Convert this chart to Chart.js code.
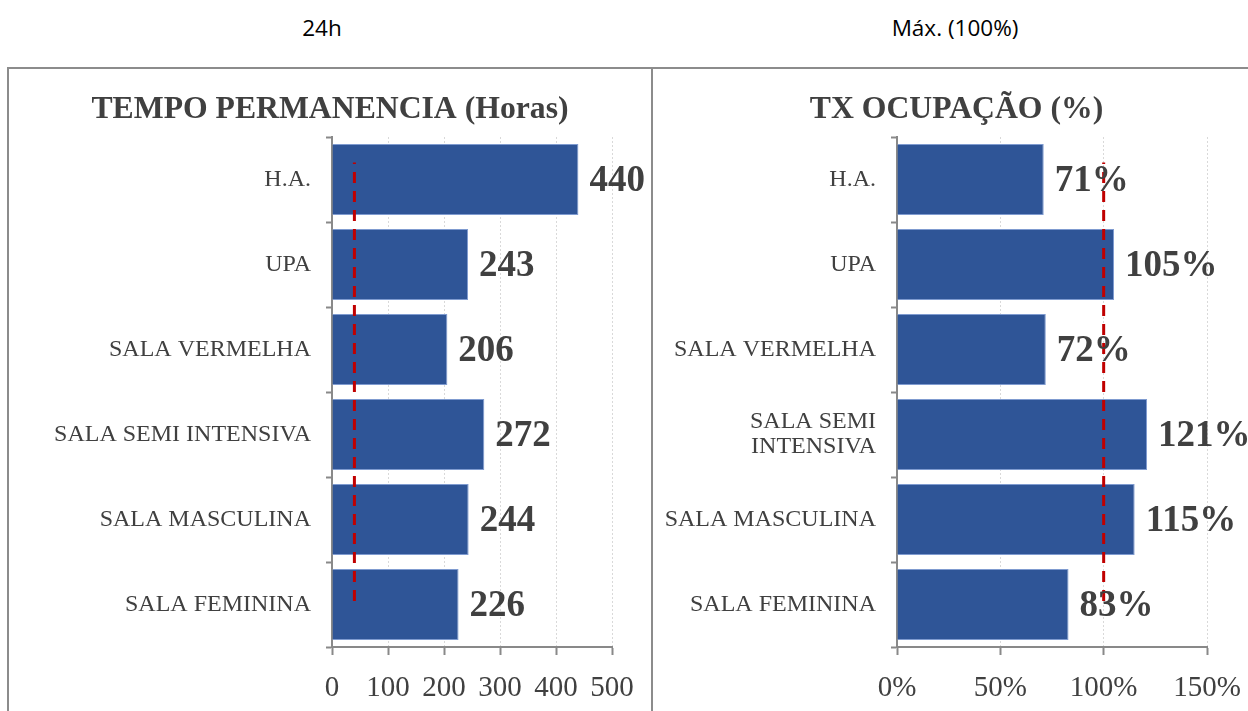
<!DOCTYPE html>
<html>
<head>
<meta charset="utf-8">
<script src="https://cdn.jsdelivr.net/npm/chart.js@4.4.1/dist/chart.umd.min.js"></script>
<style>
  body { margin: 0; width: 1248px; height: 711px; overflow: hidden; background: #fff; position: relative; }
  .legend { position: absolute; top: 13px; font-family: "Open Sans", Lato, sans-serif; font-size: 22.5px; line-height: 30px; color: #000; transform: translateX(-50%); white-space: nowrap; }
  .line { position: absolute; background: #8c8c8c; }
  .panel { position: absolute; top: 68px; height: 660px; }
</style>
</head>
<body>
<div class="legend" style="left:322px">24h</div>
<div class="legend" style="left:955px">Máx. (100%)</div>

<div class="panel" style="left:8px; width:644px"><canvas id="tempoChart"></canvas></div>
<div class="panel" style="left:652px; width:609px"><canvas id="ocupChart"></canvas></div>

<div class="line" style="left:7px; top:67px; width:1241px; height:2px"></div>
<div class="line" style="left:7px; top:67px; width:2px; height:644px"></div>
<div class="line" style="left:651px; top:67px; width:2px; height:644px"></div>

<script>
const categories = ['H.A.', 'UPA', 'SALA VERMELHA', 'SALA SEMI INTENSIVA', 'SALA MASCULINA', 'SALA FEMININA']
const tempoHoras = [440, 243, 206, 272, 244, 226]
const ocupacao = [71, 105, 72, 121, 115, 83]
const tempoTicks = [0, 100, 200, 300, 400, 500]
const ocupTicks = [0, 50, 100, 150]
const refTempo = 40      // linha 24h
const refOcup = 100      // Máx. (100%)
const refSpan = [0.09, 0.95]

const textColor = '#404040'
const axisColor = '#898989'
const barColor = '#2f5597'

// rótulos de valor no fim das barras
const valueLabels = {
  id: 'valueLabels',
  afterDraw(chart, args, opts) {
    const ctx = chart.ctx
    const meta = chart.getDatasetMeta(0)
    ctx.save()
    ctx.font = 'bold 37px "Liberation Serif"'
    ctx.fillStyle = textColor
    ctx.textAlign = 'left'
    ctx.textBaseline = 'middle'
    meta.data.forEach((bar, i) => {
      const v = chart.data.datasets[0].data[i]
      ctx.fillText(v + (opts.suffix || ''), bar.x + 11, bar.y + 2)
    })
    ctx.restore()
  }
}

function makeChart(el, title, values, ticks, refValue, suffix, yWidth, rightWidth, wrap) {
  return new Chart(el, {
    type: 'bar',
    data: {
      labels: categories,
      datasets: [{
        data: values,
        backgroundColor: barColor,
        borderColor: '#7f9bd0',
        borderWidth: 1,
        grouped: false,
        categoryPercentage: 1,
        barPercentage: 0.835,
        order: 2
      }, {
        type: 'scatter',
        data: refSpan.map(y => ({ x: refValue, y: y })),
        yAxisID: 'yRef',
        showLine: true,
        borderColor: '#c00000',
        borderWidth: 3,
        borderDash: [11, 8],
        pointRadius: 0,
        order: 1
      }]
    },
    plugins: [valueLabels],
    options: {
      indexAxis: 'y',
      responsive: true,
      maintainAspectRatio: false,
      animation: false,
      layout: { padding: { left: 0, right: 0, top: 0, bottom: 5.8 } },
      plugins: {
        legend: { display: false },
        tooltip: { enabled: false },
        title: {
          display: true,
          text: title,
          color: textColor,
          font: { family: 'Liberation Serif', size: 31.7, weight: 'bold', lineHeight: 1.2 },
          padding: { top: 23, bottom: 7.96 }
        },
        valueLabels: { suffix: suffix }
      },
      scales: {
        x: {
          min: ticks[0],
          max: ticks[ticks.length - 1],
          afterBuildTicks: s => { s.ticks = ticks.map(v => ({ value: v })) },
          grid: {
            color: '#d9d9d9',
            lineWidth: 1,
            tickColor: axisColor,
            tickWidth: 2,
            tickLength: 8
          },
          border: { color: axisColor, width: 2, dash: [2, 2] },
          ticks: {
            color: textColor,
            padding: 16.2,
            font: { family: 'Liberation Serif', size: 29 },
            callback: v => v + suffix
          }
        },
        y: {
          afterFit: s => { s.width = yWidth },
          grid: {
            offset: true,
            drawOnChartArea: false,
            tickColor: axisColor,
            tickWidth: 2,
            tickLength: 6
          },
          border: { color: axisColor, width: 2 },
          ticks: {
            color: textColor,
            padding: 15,
            font: { family: 'Liberation Serif', size: 24, lineHeight: 1.05 },
            callback: function(v) {
              const l = this.getLabelForValue(v)
              if (wrap && l.length > 16) {
                const cut = l.lastIndexOf(' ', 10)
                return [l.slice(0, cut), l.slice(cut + 1)]
              }
              return l
            }
          }
        },
        // eixo auxiliar invisível para a linha tracejada; também reserva a margem direita
        yRef: {
          type: 'linear',
          position: 'right',
          min: 0,
          max: 1,
          offset: false,
          afterFit: s => { s.width = rightWidth },
          grid: { display: false, offset: false },
          border: { display: false },
          ticks: { display: false }
        }
      }
    }
  })
}

document.addEventListener('DOMContentLoaded', function() {
  makeChart(document.getElementById('tempoChart'), 'TEMPO PERMANENCIA (Horas)', tempoHoras, tempoTicks, refTempo, '', 324, 40, false)
  makeChart(document.getElementById('ocupChart'), 'TX OCUPAÇÃO (%)', ocupacao, ocupTicks, refOcup, '%', 245, 54, true)
})
</script>
</body>
</html>
